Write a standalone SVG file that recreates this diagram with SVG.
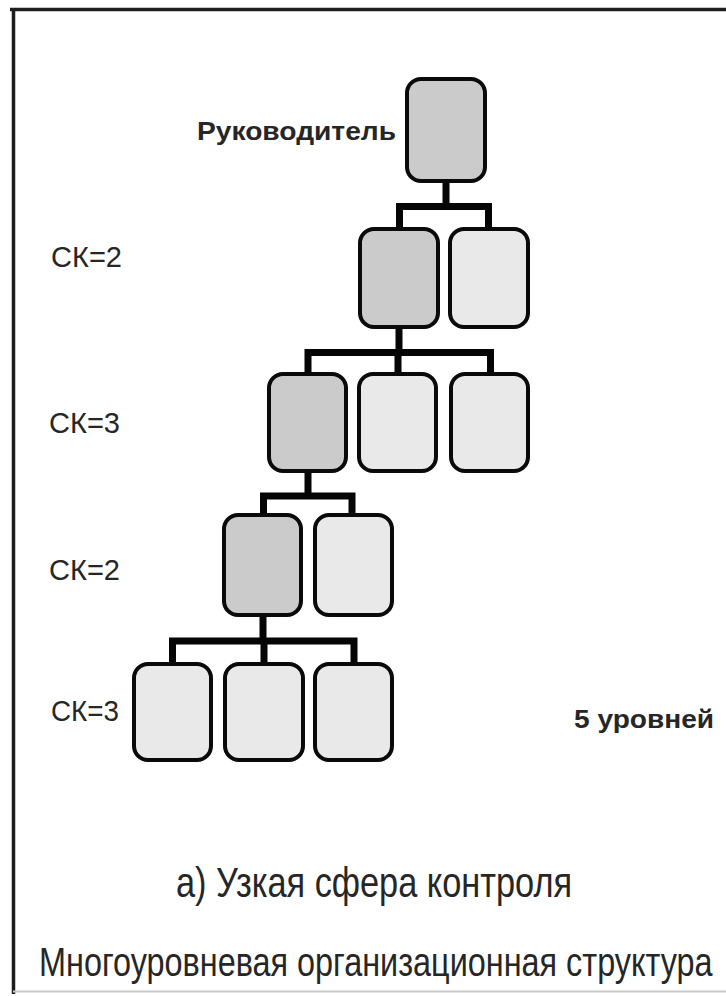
<svg xmlns="http://www.w3.org/2000/svg" width="726" height="996" viewBox="0 0 726 996">
  <style>
    .unit { stroke: #0a0a0a; stroke-width: 4; }
    .head { fill: #cbcbcb; }
    .sub { fill: #e9e9e9; }
    .link { fill: none; stroke: #050505; stroke-width: 7; stroke-linecap: butt; stroke-linejoin: miter; }
    .lbl { font-family: "Liberation Sans", Arial, sans-serif; fill: #262626; }
    .span { font-size: 30px; }
    .cap { font-size: 42px; }
  </style>

  <!-- frame -->
  <rect x="0" y="0" width="726" height="996" fill="#ffffff"/>
  <line x1="10" y1="9.5" x2="726" y2="9.5" stroke="#1e1e1e" stroke-width="3.5"/>
  <line x1="13.5" y1="8" x2="13.5" y2="994" stroke="#1e1e1e" stroke-width="3.5"/>
  <line x1="13" y1="991.5" x2="726" y2="991.5" stroke="#c8c8c8" stroke-width="2"/>

  <!-- connectors -->
  <g id="connectors">
    <!-- head to level 2 -->
    <path class="link" d="M446,181 V206.5 M399.5,206.5 H488.5 M399.5,203 V229 M488.5,203 V229"/>
    <!-- level 2 to level 3 -->
    <path class="link" d="M399,327 V352.5 M308,352.5 H490.5 M308,349 V374 M398,349 V374 M490.5,349 V374"/>
    <!-- level 3 to level 4 -->
    <path class="link" d="M308,471 V496 M263.5,496 H352 M263.5,492.5 V515 M352,492.5 V515"/>
    <!-- level 4 to level 5 -->
    <path class="link" d="M263,615 V641 M172.5,641 H354 M172.5,637.5 V664 M264,637.5 V664 M354,637.5 V664"/>
  </g>

  <!-- level 1 -->
  <g id="head">
    <rect class="unit head" x="407" y="79" width="78" height="102" rx="14"/>
    <text class="lbl" x="197" y="140" font-size="25" font-weight="bold" textLength="199" lengthAdjust="spacingAndGlyphs">Руководитель</text>
  </g>

  <!-- level 2 -->
  <g id="l2-a"><rect class="unit head" x="360" y="229" width="78" height="98" rx="14"/></g>
  <g id="l2-b"><rect class="unit sub" x="450" y="229" width="78" height="98" rx="14"/></g>

  <!-- level 3 -->
  <g id="l3-a"><rect class="unit head" x="269" y="374" width="77" height="97" rx="14"/></g>
  <g id="l3-b"><rect class="unit sub" x="359" y="374" width="77" height="97" rx="14"/></g>
  <g id="l3-c"><rect class="unit sub" x="451" y="374" width="77" height="97" rx="14"/></g>

  <!-- level 4 -->
  <g id="l4-a"><rect class="unit head" x="224" y="515" width="77" height="100" rx="14"/></g>
  <g id="l4-b"><rect class="unit sub" x="315" y="515" width="77" height="100" rx="14"/></g>

  <!-- level 5 -->
  <g id="l5-a"><rect class="unit sub" x="134" y="664" width="77" height="96" rx="14"/></g>
  <g id="l5-b"><rect class="unit sub" x="225" y="664" width="78" height="96" rx="14"/></g>
  <g id="l5-c"><rect class="unit sub" x="315" y="664" width="77" height="96" rx="14"/></g>

  <!-- span of control labels -->
  <g id="span-labels">
    <text class="lbl span" x="51" y="267" textLength="71" lengthAdjust="spacingAndGlyphs">СК=2</text>
    <text class="lbl span" x="49" y="433" textLength="71" lengthAdjust="spacingAndGlyphs">СК=3</text>
    <text class="lbl span" x="49" y="580" textLength="71" lengthAdjust="spacingAndGlyphs">СК=2</text>
    <text class="lbl span" x="51" y="721" textLength="68" lengthAdjust="spacingAndGlyphs">СК=3</text>
  </g>

  <g id="levels-note">
    <text class="lbl" x="574" y="728" font-size="25" font-weight="bold" textLength="140" lengthAdjust="spacingAndGlyphs">5 уровней</text>
  </g>

  <!-- captions -->
  <g id="captions">
    <text class="lbl cap" x="176" y="897" textLength="396" lengthAdjust="spacingAndGlyphs">а) Узкая сфера контроля</text>
    <!-- narrow face: horizontal squeeze of the regular face -->
    <text class="lbl" transform="translate(39,976) scale(0.8,1)" x="0" y="0" font-size="40" textLength="842" lengthAdjust="spacingAndGlyphs">Многоуровневая организационная структура</text>
  </g>
</svg>
